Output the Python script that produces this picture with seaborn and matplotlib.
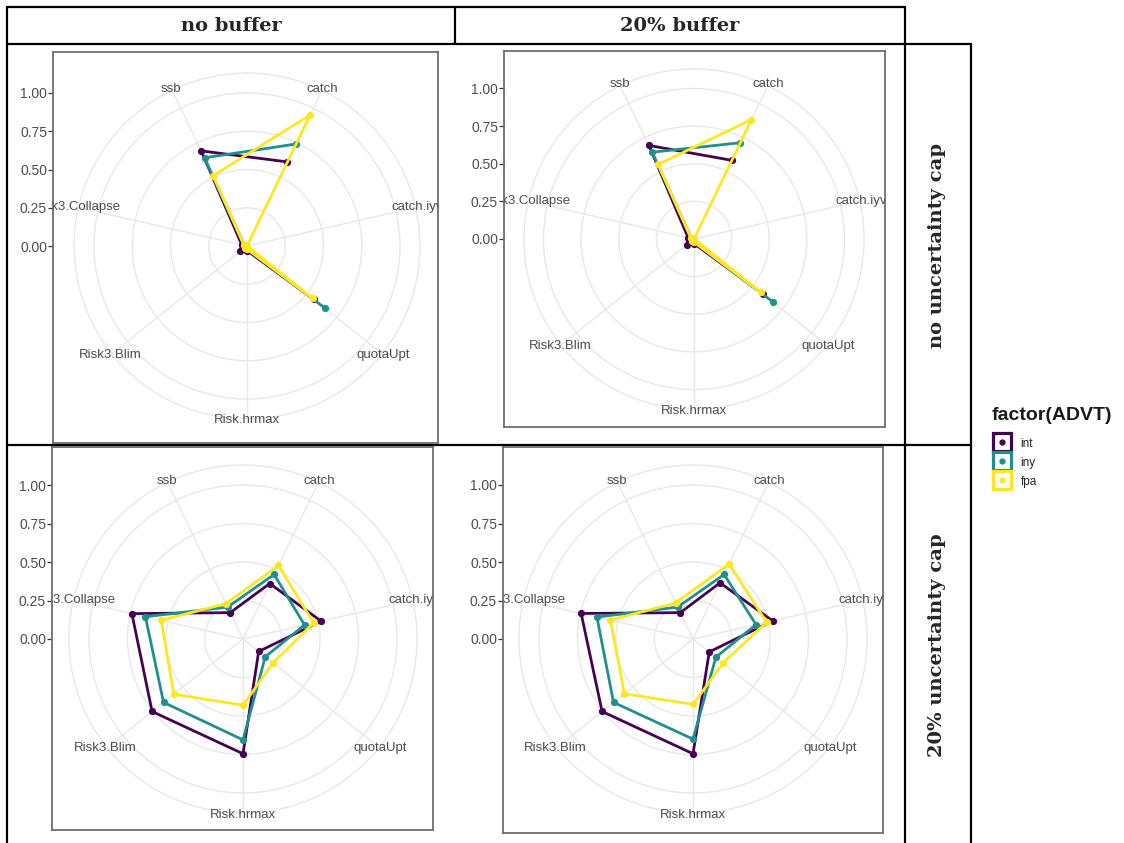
import numpy as np
import matplotlib
matplotlib.use("Agg")
import matplotlib.pyplot as plt
from matplotlib.lines import Line2D
import seaborn as sns

# radar axes, in drawing order of the path
categories = ["ssb", "catch", "catch.iyv", "quotaUpt", "Risk.hrmax", "Risk3.Blim", "Risk3.Collapse"]
groups = ["int", "iny", "fpa"]
col_titles = ["no buffer", "20% buffer"]
row_titles = ["no uncertainty cap", "20% uncertainty cap"]
tick_values = [0.00, 0.25, 0.50, 0.75, 1.00]

nan = np.nan
# no buffer / no uncertainty cap
nobuf_nocap_int = [0.69, 0.61, nan, 0.56, 0.03, 0.055, 0.035]
nobuf_nocap_iny = [0.64, 0.74, nan, 0.65, 0.02, 0.02, 0.02]
nobuf_nocap_fpa = [0.51, 0.95, 0.00, 0.55, 0.02, 0.02, 0.02]
# 20% buffer / no uncertainty cap
buf_nocap_int = [0.69, 0.58, nan, 0.585, 0.03, 0.06, 0.04]
buf_nocap_iny = [0.64, 0.71, nan, 0.67, 0.02, 0.02, 0.02]
buf_nocap_fpa = [0.55, 0.88, 0.00, 0.57, 0.02, 0.02, 0.02]
# no buffer / 20% uncertainty cap
nobuf_cap_int = [0.19, 0.40, 0.52, 0.13, 0.745, 0.755, 0.74]
nobuf_cap_iny = [0.23, 0.465, 0.41, 0.185, 0.655, 0.66, 0.65]
nobuf_cap_fpa = [0.255, 0.53, 0.47, 0.25, 0.43, 0.575, 0.545]
# 20% buffer / 20% uncertainty cap
buf_cap_int = [0.19, 0.405, 0.53, 0.135, 0.745, 0.755, 0.745]
buf_cap_iny = [0.23, 0.465, 0.42, 0.19, 0.65, 0.66, 0.64]
buf_cap_fpa = [0.26, 0.54, 0.49, 0.25, 0.425, 0.57, 0.55]

panels = [
    [nobuf_nocap_int, nobuf_nocap_iny, nobuf_nocap_fpa],
    [buf_nocap_int, buf_nocap_iny, buf_nocap_fpa],
    [nobuf_cap_int, nobuf_cap_iny, nobuf_cap_fpa],
    [buf_cap_int, buf_cap_iny, buf_cap_fpa],
]

# layout in pixels: frame (left, top, right, bottom), radar centre, pixels per unit
W, H = 1124, 843
layout = [
    ((53, 52, 438, 443), (247, 246), 153.0),
    ((504, 51, 885, 427), (694, 239), 150.5),
    ((52, 447, 433, 830), (243, 639), 154.0),
    ((503, 447, 883, 833), (693, 639), 154.0),
]
RMAX = 1.13

sns.set_theme(style="ticks")
plt.rcParams["font.family"] = ["Liberation Sans", "DejaVu Sans"]

colors = ["#440154", "#21908C", "#FDE725"]
grid_col = "#E8E8E8"
text_col = "#4D4D4D"

fig = plt.figure(figsize=(W / 100, H / 100), dpi=100)
fig.patch.set_facecolor("white")


def fx(x):
    return x / W


def fy(y):
    return 1 - y / H


# table grid drawn on a full-figure overlay
table = fig.add_axes([0, 0, 1, 1], zorder=0)
table.set_xlim(0, W)
table.set_ylim(H, 0)
table.axis("off")
lw_t = 1.6
table.plot([7, 905], [7, 7], color="black", lw=lw_t)
table.plot([7, 971], [44, 44], color="black", lw=lw_t)
table.plot([7, 971], [445, 445], color="black", lw=lw_t)
table.plot([7, 7], [7, H], color="black", lw=lw_t)
table.plot([455, 455], [7, 44], color="black", lw=lw_t)
table.plot([905, 905], [7, H], color="black", lw=lw_t)
table.plot([971, 971], [44, H], color="black", lw=lw_t)
serif = ["DejaVu Serif"]
table.text(231, 26, col_titles[0], ha="center", va="center", fontsize=14,
           fontweight="bold", family=serif)
table.text(680, 26, col_titles[1], ha="center", va="center", fontsize=14,
           fontweight="bold", family=serif)
table.text(937, 245, row_titles[0], ha="center", va="center", fontsize=14,
           fontweight="bold", family=serif, rotation=90)
table.text(937, 645, row_titles[1], ha="center", va="center", fontsize=14,
           fontweight="bold", family=serif, rotation=90)

step = 2 * np.pi / len(categories)
thetas = (np.arange(len(categories)) - 0.5) * step
thetas_closed = np.append(thetas, thetas[0])
tick_thetas = np.mod(thetas, 2 * np.pi)

for values, ((l, t, r, b), (cx, cy), unit) in zip(panels, layout):
    frame = fig.add_axes([fx(l), fy(b), (r - l) / W, (b - t) / H], zorder=1)
    frame.set_xlim((l - cx) / unit, (r - cx) / unit)
    frame.set_ylim((cy - b) / unit, (cy - t) / unit)
    frame.set_facecolor("white")
    frame.set_xticks([])
    frame.set_yticks(tick_values)
    frame.set_yticklabels([f"{v:.2f}" for v in tick_values])
    frame.tick_params(axis="y", direction="out", length=3.5, width=0.9,
                      color="#333333", labelcolor=text_col, labelsize=10, pad=0.8)
    for sp in frame.spines.values():
        sp.set_color("#6E6E6E")
        sp.set_linewidth(1.3)

    pax = fig.add_axes([fx(cx - RMAX * unit), fy(cy + RMAX * unit),
                        2 * RMAX * unit / W, 2 * RMAX * unit / H],
                       projection="polar", zorder=2)
    pax.set_theta_zero_location("N")
    pax.set_theta_direction(-1)
    pax.patch.set_alpha(0)

    for vals, c in zip(values, colors):
        v = np.append(vals, vals[0])
        pax.plot(thetas_closed, v, color=c, lw=2.0, solid_capstyle="round", clip_on=False)
        pax.plot(thetas, vals, ls="none", marker="o", ms=4.2, color=c, clip_on=False)

    pax.set_xticks(tick_thetas)
    pax.set_xticklabels([])
    pax.set_yticks([0.25, 0.5, 0.75, 1.0])
    pax.set_yticklabels([])
    pax.set_xlim(0, 2 * np.pi)
    pax.set_ylim(0, RMAX)
    pax.grid(True, color=grid_col, lw=1.0)
    pax.set_axisbelow(True)
    pax.spines["polar"].set_color(grid_col)
    pax.spines["polar"].set_linewidth(1.0)
    pax.tick_params(length=0)

    for name, th in zip(categories, tick_thetas):
        txt = pax.text(th, 1.14, name, ha="center", va="center", fontsize=9.5,
                       color=text_col, clip_on=True)
        txt.set_clip_path(frame.patch)

# legend: title as its own text, keys below it
table.text(992, 415, "factor(ADVT)", ha="left", va="center", fontsize=14,
           fontweight="bold", color="#1A1A1A")
handles = []
for c in colors:
    box = Line2D([], [], ls="none", marker="s", ms=12.5, mfc="white", mec=c, mew=2.3)
    dot = Line2D([], [], ls="none", marker="o", ms=3.5, color=c)
    handles.append((box, dot))
leg = fig.legend(handles, groups, loc="upper left", bbox_to_anchor=(fx(993), fy(437)),
                 frameon=False, fontsize=8.5,
                 handlelength=1.6, handleheight=1.25, handletextpad=0.75,
                 labelspacing=0.5, borderaxespad=0, borderpad=0)

fig.savefig("out.png", dpi=100, facecolor="white")
